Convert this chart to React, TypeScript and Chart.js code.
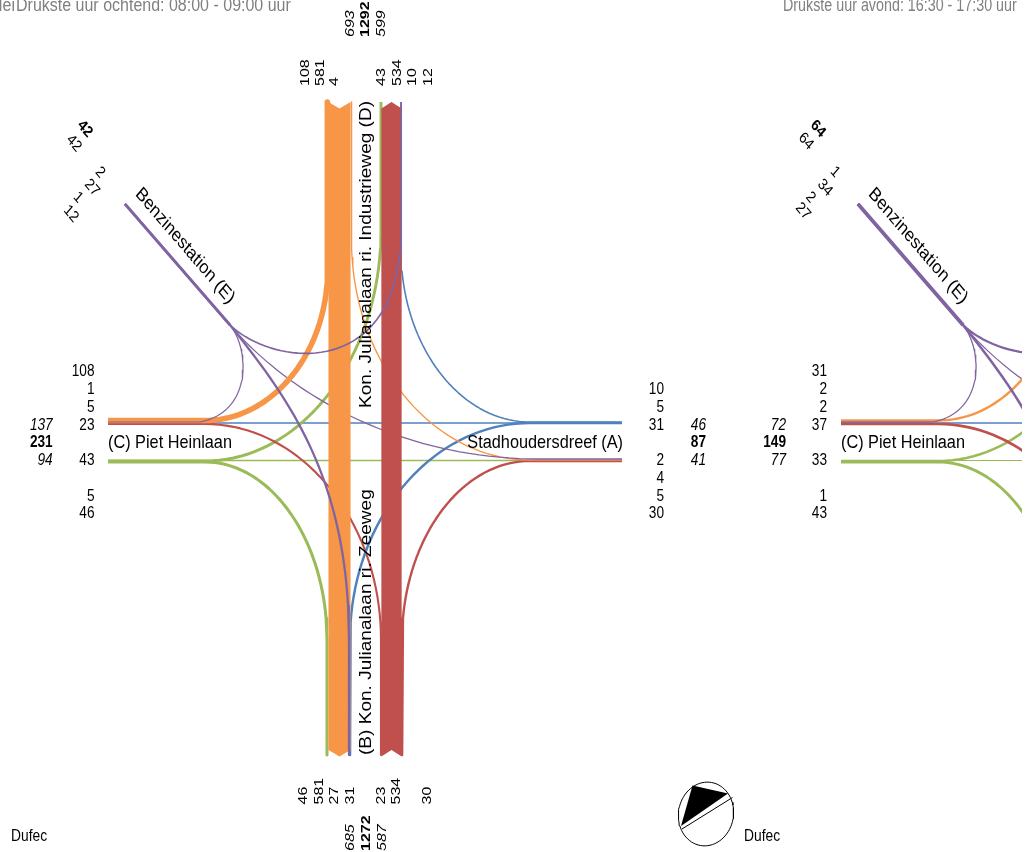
import React, { useEffect, useRef } from "react";
import { Chart, registerables } from "chart.js";

Chart.register(...registerables);

const WIDTH = 1022;
const HEIGHT = 852;
const EVENING_SHIFT = 733;
const TEXT_STRETCH = 1.17;

const COLORS = { orange: "#F79646", red: "#C0504D", green: "#9BBB59", blue: "#4F81BD", purple: "#8064A2" };

// Morning volumes
const morningD = [108, 581, 4, 43, 534, 10, 12];
const morningD_totals = ["693", "1292", "599"];
const morningB = [46, 581, 27, 31, 23, 534, 30];
const morningB_totals = ["685", "1272", "587"];
const morningC = [108, 1, 5, 23, 43, 5, 46];
const morningC_totals = ["137", "231", "94"];
const morningA = [10, 5, 31, 2, 4, 5, 30];
const morningA_totals = ["46", "87", "41"];
const morningE = [2, 27, 1, 12];
const morningE_totals = ["42", "42"];

// Evening volumes that are visible
const eveningC = [31, 2, 2, 37, 33, 1, 43];
const eveningC_totals = ["72", "149", "77"];
const eveningE = [1, 34, 2, 27];
const eveningE_totals = ["64", "64"];

const titles = ["Drukste uur ochtend: 08:00 - 09:00 uur", "Drukste uur avond: 16:30 - 17:30 uur"];
const roads = ["(C) Piet Heinlaan", "Stadhoudersdreef (A)", "Kon. Julianalaan ri. Industrieweg (D)", "(B) Kon. Julianalaan ri. Zeeweg", "Benzinestation (E)"];

type P = [number, number];
// A route: straight run from `a` to p0, bezier p0-c1-c2-p3, straight run to `b`
type Route = { a: P; p0: P; c1: P; c2: P; p3: P; b: P };
const K = 0.55;
const arc = (a: P, p0: P, p3: P, b: P, hFirst: boolean): Route => {
  const dx = p3[0] - p0[0], dy = p3[1] - p0[1];
  return hFirst
    ? { a, p0, c1: [p0[0] + K * dx, p0[1]], c2: [p3[0], p3[1] - K * dy], p3, b }
    : { a, p0, c1: [p0[0], p0[1] + K * dy], c2: [p3[0] - K * dx, p3[1]], p3, b };
};
const E0: P = [125, 204];
const E1: P = [230, 325];

const routes: Record<string, Route> = {
  CD_green: arc([108, 461], [205, 461], [381, 230], [381, 102], true),
  CB_green: arc([108, 462], [205, 462], [327, 640], [327, 755], true),
  CB_red: arc([108, 424], [205, 424], [381, 640], [381, 755], true),
  AB_blue: arc([622, 423], [530, 423], [350, 640], [350, 755], true),
  AB_red: arc([622, 461], [530, 461], [402, 640], [402, 755], true),
  AD_blue: arc([622, 422], [530, 422], [401, 250], [401, 102], true),
  DA_orange: arc([351.5, 102], [351.5, 240], [530, 460], [622, 460], false),
  DC_orange: arc([327.5, 102], [327.5, 270], [205, 420.5], [108, 420.5], false),
  ED_purple: { a: E0, p0: E1, c1: [275, 368], c2: [401, 380], p3: [401, 230], b: [401, 102] },
  EB_purple: { a: E0, p0: E1, c1: [290, 400], c2: [349, 480], p3: [349, 640], b: [349, 755] },
  EA_purple: { a: E0, p0: E1, c1: [290, 395], c2: [400, 459], p3: [540, 459], b: [622, 459] },
  EC_purple: { a: E0, p0: E1, c1: [250, 350], c2: [252, 412], p3: [200, 422], b: [108, 422] },
};
const straightBlue: P[] = [[108, 423], [622, 423]];
const straightGreen: P[] = [[108, 460.5], [622, 460.5]];

const W = (v: number) => 1.2 + v * 0.04;
const RIBBON = 0.038;

const samplePath = (r: Route, dx: number) => {
  const pts: { x: number; y: number }[] = [{ x: r.a[0] + dx, y: r.a[1] }];
  for (let i = 0; i <= 40; i++) {
    const t = i / 40, u = 1 - t;
    pts.push({
      x: u * u * u * r.p0[0] + 3 * u * u * t * r.c1[0] + 3 * u * t * t * r.c2[0] + t * t * t * r.p3[0] + dx,
      y: u * u * u * r.p0[1] + 3 * u * u * t * r.c1[1] + 3 * u * t * t * r.c2[1] + t * t * t * r.p3[1],
    });
  }
  pts.push({ x: r.b[0] + dx, y: r.b[1] });
  return pts;
};

const line = (pts: { x: number; y: number }[], color: string, width: number) => ({
  type: "scatter" as const,
  data: pts,
  showLine: true,
  borderColor: color,
  backgroundColor: color,
  borderWidth: width,
  pointRadius: 0,
  tension: 0,
  fill: false,
  borderCapStyle: "butt" as const,
  borderJoinStyle: "round" as const,
});
const poly = (pts: { x: number; y: number }[], color: string) => ({
  ...line(pts, color, 0),
  fill: "shape",
  backgroundColor: color,
});
const ribbon = (cx: number, v: number, top: number, bottom: number, down: boolean, color: string) => {
  const h = v * RIBBON * 0.5;
  const n = 6.5;
  const pts = down
    ? [[cx - h, top], [cx, top + n], [cx + h, top], [cx + h, bottom - n], [cx, bottom], [cx - h, bottom - n]]
    : [[cx - h, top + n], [cx, top], [cx + h, top + n], [cx + h, bottom], [cx, bottom - n], [cx - h, bottom]];
  return poly(pts.map(([x, y]) => ({ x, y })), color);
};
const toPts = (a: P[], dx = 0) => a.map(([x, y]) => ({ x: x + dx, y }));
const sum = (a: number[]) => a.reduce((s, v) => s + v, 0);

const ellipsePts = (cx: number, cy: number, rx: number, ry: number, tiltDeg: number) => {
  const out: { x: number; y: number }[] = [];
  const c = Math.cos((tiltDeg * Math.PI) / 180), s = Math.sin((tiltDeg * Math.PI) / 180);
  for (let i = 0; i <= 72; i++) {
    const a = (i / 72) * 2 * Math.PI;
    const ex = rx * Math.cos(a), ey = ry * Math.sin(a);
    out.push({ x: cx + ex * c - ey * s, y: cy + ex * s + ey * c });
  }
  return out;
};

const datasets: any[] = [
  // bottom to top, morning
  line(toPts(straightGreen), COLORS.green, W(morningC[5])),
  line(toPts(straightBlue), COLORS.blue, W(morningC[2])),
  line(samplePath(routes.CD_green, 0), COLORS.green, W(morningC[4])),
  line(samplePath(routes.CB_green, 0), COLORS.green, W(morningC[6])),
  line(samplePath(routes.CB_red, 0), COLORS.red, W(morningC[3])),
  line(samplePath(routes.AB_blue, 0), COLORS.blue, W(morningA[2])),
  line(samplePath(routes.AB_red, 0), COLORS.red, W(morningA[6])),
  line(samplePath(routes.AD_blue, 0), COLORS.blue, W(morningA[0])),
  line(samplePath(routes.DA_orange, 0), COLORS.orange, W(morningD[2])),
  line(samplePath(routes.EA_purple, 0), COLORS.purple, W(morningE[0])),
  ribbon(339.5, morningD[1], 102, 756.5, true, COLORS.orange),
  ribbon(391.5, morningD[4], 102, 756.5, false, COLORS.red),
  line(samplePath(routes.DC_orange, 0), COLORS.orange, W(morningD[0])),
  line(samplePath(routes.EB_purple, 0), COLORS.purple, W(morningE[1])),
  line(samplePath(routes.ED_purple, 0), COLORS.purple, W(morningE[3])),
  line(samplePath(routes.EC_purple, 0), COLORS.purple, W(morningE[2])),
  line(toPts([E0, E1]), COLORS.purple, W(sum(morningE))),
  // evening
  line(toPts(straightGreen, EVENING_SHIFT), COLORS.green, W(eveningC[5])),
  line(toPts(straightBlue, EVENING_SHIFT), COLORS.blue, W(eveningC[2])),
  line(samplePath(routes.CD_green, EVENING_SHIFT), COLORS.green, W(eveningC[4])),
  line(samplePath(routes.CB_green, EVENING_SHIFT), COLORS.green, W(eveningC[6])),
  line(samplePath(routes.EA_purple, EVENING_SHIFT), COLORS.purple, W(eveningE[0])),
  line(samplePath(routes.DC_orange, EVENING_SHIFT), COLORS.orange, W(eveningC[0])),
  line(samplePath(routes.CB_red, EVENING_SHIFT), COLORS.red, W(eveningC[3])),
  line(samplePath(routes.EB_purple, EVENING_SHIFT), COLORS.purple, W(eveningE[1])),
  line(samplePath(routes.ED_purple, EVENING_SHIFT), COLORS.purple, W(eveningE[3])),
  line(samplePath(routes.EC_purple, EVENING_SHIFT), COLORS.purple, W(eveningE[2])),
  line(toPts([E0, E1], EVENING_SHIFT), COLORS.purple, W(sum(eveningE))),
  // north arrow
  line(ellipsePts(706, 814, 27.5, 32, 10), "#000000", 1),
  poly(toPts([[692.5, 785.5], [728, 793.5], [681, 826]]), "#000000"),
  line(toPts([[682, 829], [732.5, 797.5]]), "#000000", 1),
];
datasets.forEach((d, i) => (d.order = datasets.length - i));

type T = { s: string; x: number; y: number; rot?: number; align?: CanvasTextAlign; style?: string; size?: number; color?: string; sx?: number };
const texts: T[] = [];
const LBL = 13.67;
const ROAD = 16.3;
const TITLE = 16;
const ANG = 45;

const addSide = (values: number[], xs: number[], y: number) => values.forEach((v, i) => texts.push({ s: String(v), x: xs[i] + 0.7, y, rot: -90, align: "left", size: LBL }));
const addTot = (vals: string[], xs: number[], y: number) => vals.forEach((s, i) => texts.push({ s, x: xs[i] + 0.7, y, rot: -90, align: "left", size: LBL, style: i === 1 ? "bold" : "italic" }));
const rowC = [371.9, 389.9, 407.7, 425.2, 460.4, 496.7, 513.9];
const rowA = [389.7, 407.2, 425.2, 460.5, 478.2, 496.2, 513.9];
const totY = [425.2, 442.9, 460.2];
const addRow = (values: number[], x: number, ys: number[]) => values.forEach((v, i) => texts.push({ s: String(v), x, y: ys[i], align: "right", size: LBL }));
const addTotRow = (vals: string[], x: number) => vals.forEach((s, i) => texts.push({ s, x, y: totY[i], align: "right", size: LBL, style: i === 1 ? "bold" : "italic" }));
const addE = (vals: number[], tot: string[], pos: P[], totPos: P[]) => {
  vals.forEach((v, i) => texts.push({ s: String(v), x: pos[i][0], y: pos[i][1], rot: ANG, align: "center", size: LBL }));
  tot.forEach((s, i) => texts.push({ s, x: totPos[i][0], y: totPos[i][1], rot: ANG, align: "center", size: LBL, style: i === 0 ? "bold" : "normal" }));
};

texts.push({ s: "Mei", x: 15, y: 5.4, align: "right", size: TITLE, color: "#808080" });
texts.push({ s: titles[0], x: 16, y: 5.4, align: "left", size: TITLE, color: "#808080" });
texts.push({ s: titles[1], x: 783, y: 5.4, align: "left", size: TITLE, color: "#808080", sx: 0.894 });
addSide(morningD, [305, 319.5, 334, 381, 396.5, 411.7, 427.5], 86);
addTot(morningD_totals, [349, 365, 380], 37);
addSide(morningB, [303, 319, 334, 350, 380.7, 396, 426.7], 804.5);
addTot(morningB_totals, [349, 366, 381], 851);
addRow(morningC, 94.5, rowC);
addTotRow(morningC_totals, 52.7);
addRow(morningA, 664, rowA);
addTotRow(morningA_totals, 706);
addRow(eveningC, 827, rowC);
addTotRow(eveningC_totals, 786);
addE(morningE, morningE_totals, [[100, 172.5], [92, 188], [78, 197.5], [71, 214]], [[85, 129], [74, 143.5]]);
addE(eveningE, eveningE_totals, [[835, 172], [825, 188], [810.7, 197.5], [803, 211.5]], [[818, 129], [806, 141.5]]);
texts.push({ s: roads[0], x: 108, y: 443, align: "left", size: ROAD });
texts.push({ s: roads[0], x: 841, y: 443, align: "left", size: ROAD });
texts.push({ s: roads[1], x: 623, y: 443, align: "right", size: ROAD });
texts.push({ s: roads[2], x: 366.5, y: 408, rot: -90, align: "left", size: ROAD });
texts.push({ s: roads[3], x: 367, y: 755, rot: -90, align: "left", size: ROAD });
texts.push({ s: roads[4], x: 185, y: 246, rot: ANG, align: "center", size: ROAD });
texts.push({ s: roads[4], x: 918, y: 246, rot: ANG, align: "center", size: ROAD });
texts.push({ s: "Dufec", x: 11, y: 836.5, align: "left", size: 13.8 });
texts.push({ s: "Dufec", x: 744, y: 836.5, align: "left", size: 13.8 });

const textPlugin = {
  id: "diagramTexts",
  afterDatasetsDraw(chart: any) {
    const { ctx, scales } = chart;
    ctx.save();
    ctx.textBaseline = "middle";
    for (const t of texts) {
      ctx.save();
      ctx.translate(scales.x.getPixelForValue(t.x), scales.y.getPixelForValue(t.y));
      ctx.scale(t.sx ?? 1, TEXT_STRETCH);
      if (t.rot) ctx.rotate((t.rot * Math.PI) / 180);
      ctx.font = `${t.style ?? "normal"} ${t.size ?? LBL}px "Liberation Sans"`;
      ctx.fillStyle = t.color ?? "#000000";
      ctx.textAlign = t.align ?? "left";
      ctx.fillText(t.s, 0, 0);
      ctx.restore();
    }
    ctx.restore();
  },
};

export default function App() {
  const ref = useRef<HTMLCanvasElement>(null);
  useEffect(() => {
    document.body.style.margin = "0";
    const chart = new Chart(ref.current!, {
      type: "scatter",
      data: { datasets },
      options: {
        animation: false,
        responsive: false,
        devicePixelRatio: 1,
        layout: { padding: 0 },
        plugins: { legend: { display: false }, title: { display: false }, tooltip: { enabled: false } },
        scales: {
          x: { type: "linear", display: false, min: 0, max: WIDTH },
          y: { type: "linear", display: false, min: 0, max: HEIGHT, reverse: true },
        },
      },
      plugins: [textPlugin],
    } as any);
    return () => chart.destroy();
  }, []);
  return <canvas ref={ref} width={WIDTH} height={HEIGHT} style={{ display: "block" }} />;
}
